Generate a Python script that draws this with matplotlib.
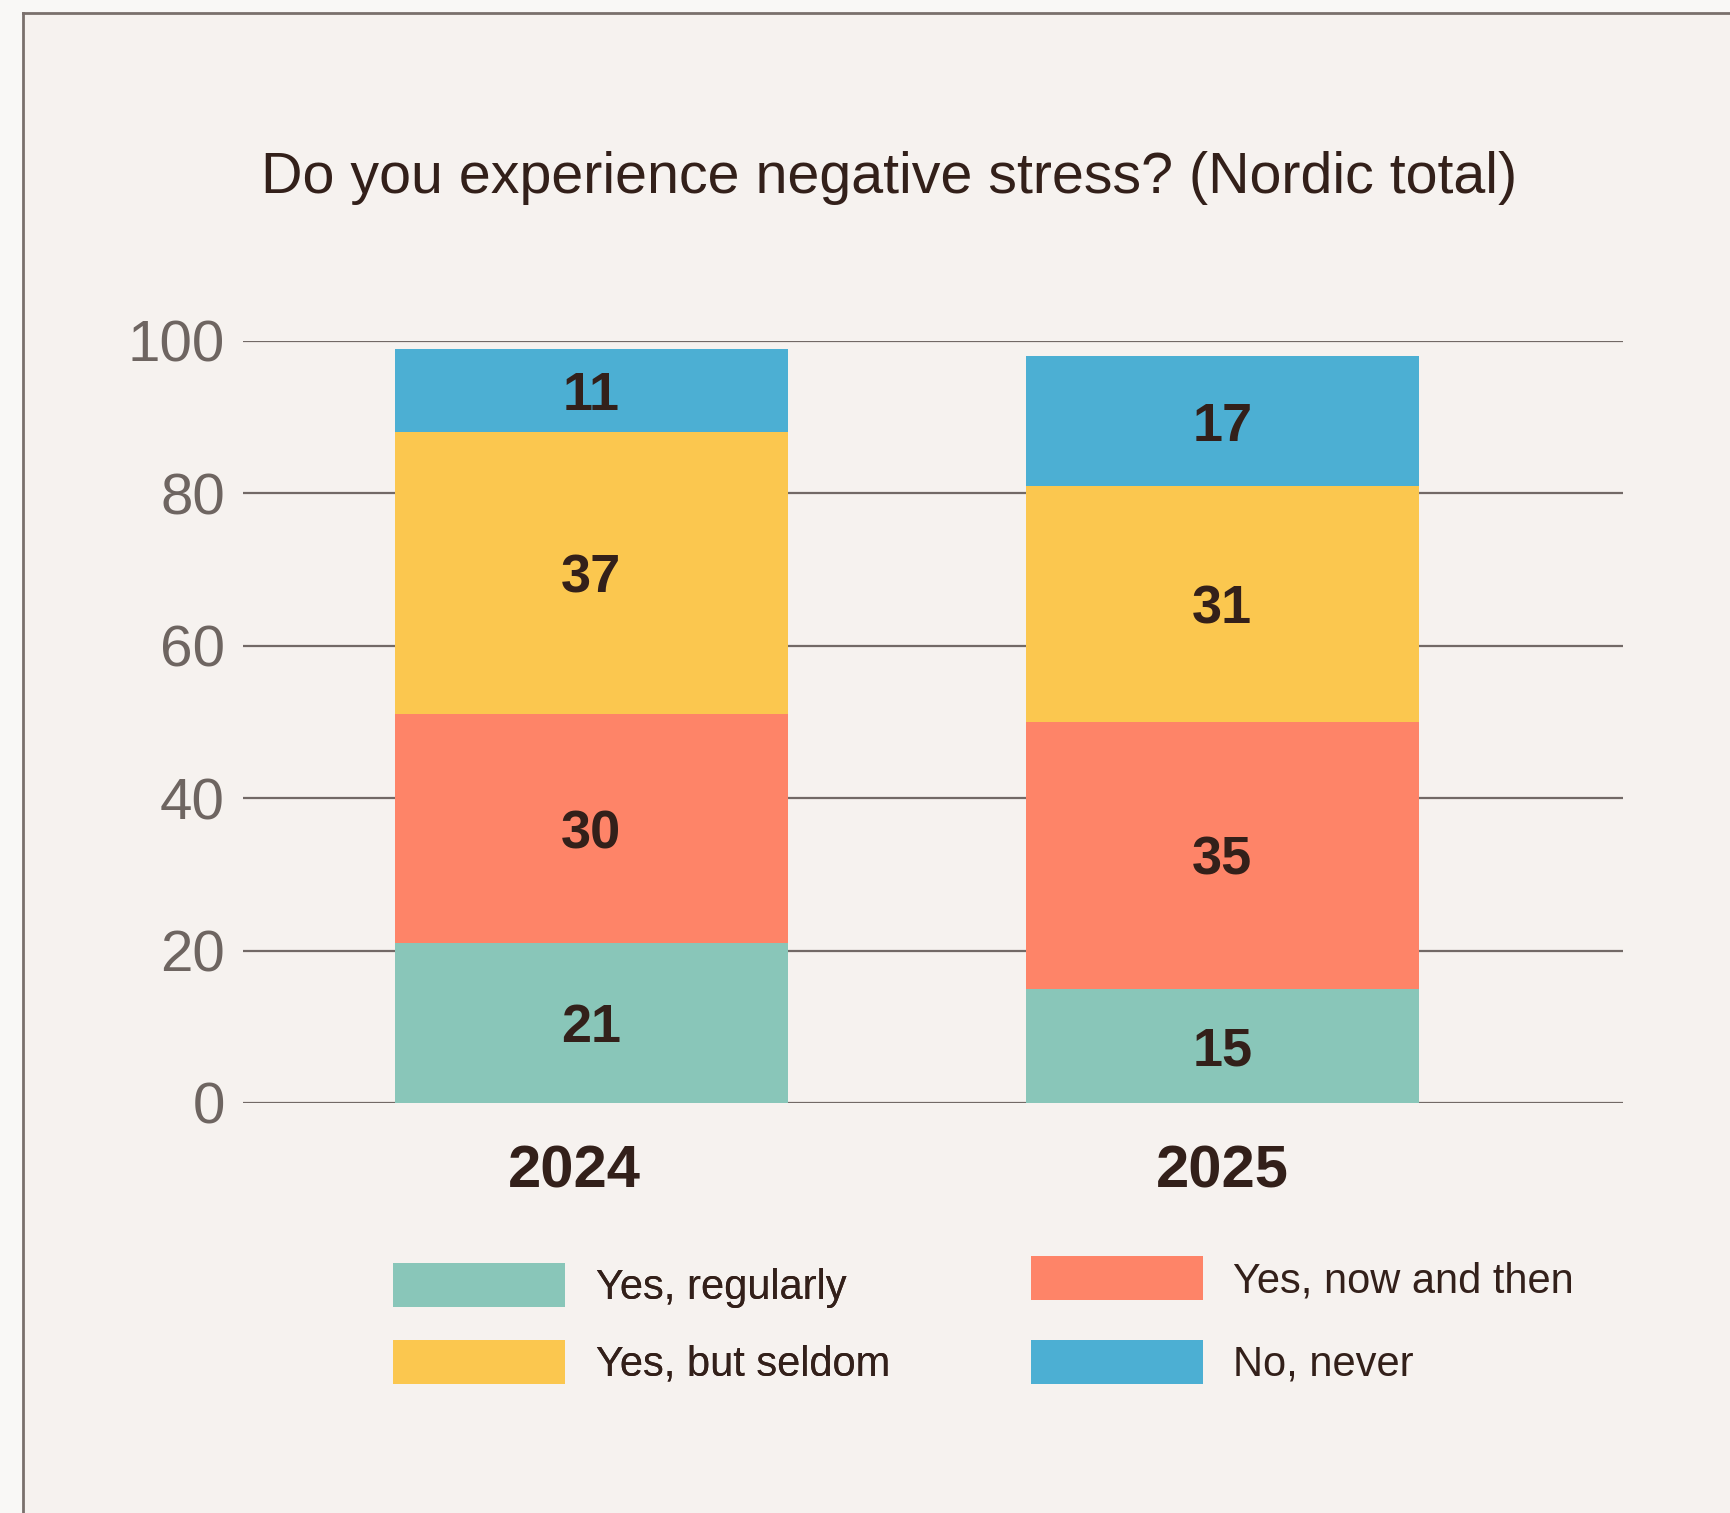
import numpy as np
import matplotlib
matplotlib.use("Agg")
import matplotlib.pyplot as plt
from matplotlib.patches import Patch, Rectangle
from matplotlib.transforms import ScaledTranslation

years = ["2024", "2025"]
categories = ["Yes, regularly", "Yes, now and then", "Yes, but seldom", "No, never"]
regularly = [21, 15]
now_and_then = [30, 35]
seldom = [37, 31]
never = [11, 17]
series = [regularly, now_and_then, seldom, never]
colors = ["#89c6b9", "#fe8468", "#fbc74f", "#4cafd3"]

plt.rcParams["font.family"] = ["Liberation Sans", "DejaVu Sans"]

dark = "#33201a"
grey = "#6e6561"

W, H = 1731, 1513
fig = plt.figure(figsize=(W / 100, H / 100), dpi=100)
fig.patch.set_facecolor("#f9f8f6")

# inner panel with a left/top border
fig.patches.append(Rectangle((23 / W, 0), 1, 1 - 13 / H, transform=fig.transFigure,
                             facecolor="#f6f2ef", edgecolor="none", zorder=-5))
fig.add_artist(plt.Line2D([23 / W, 23 / W], [0, 1 - 13 / H], color="#7a706c", lw=2, zorder=-4))
fig.add_artist(plt.Line2D([23 / W, 1], [1 - 13 / H, 1 - 13 / H], color="#7a706c", lw=2, zorder=-4))

ax = fig.add_axes([243 / W, 1 - 1103 / H, 1380 / W, 762 / H])
ax.set_facecolor("none")

x = np.arange(len(years))
bottom = np.zeros(len(years))
for vals, col, name in zip(series, colors, categories):
    vals = np.array(vals)
    ax.bar(x, vals, width=0.623, bottom=bottom, color=col, zorder=3, label=name)
    for xi, b, v in zip(x, bottom, vals):
        ax.text(xi, b + v / 2, str(v), ha="center", va="center_baseline", fontsize=39,
                fontweight="bold", color=dark, zorder=4)
    bottom += vals

ax.set_xlim(-0.552, 1.635)
ax.set_ylim(0, 100)
ax.set_yticks([0, 20, 40, 60, 80, 100])
ax.yaxis.grid(True, color="#726966", lw=1.6, zorder=0)
ax.set_axisbelow(True)
for s in ax.spines.values():
    s.set_visible(False)
ax.tick_params(axis="y", length=0, pad=13, labelsize=42, labelcolor=grey)
ax.tick_params(axis="x", length=0, pad=30)
ax.set_xticks(x)
ax.set_xticklabels(years, fontsize=43, fontweight="bold", color=dark)
# the 2024 label sits a bit left of its bar in the original
lbl = ax.get_xticklabels()[0]
lbl.set_transform(lbl.get_transform() + ScaledTranslation(-0.17, 0, fig.dpi_scale_trans))

fig.text(889 / W, 1 - 178 / H, "Do you experience negative stress? (Nordic total)",
         ha="center", va="center", fontsize=41.3, color=dark)

handles = [Patch(facecolor=c, edgecolor="none") for c in colors]
leg1 = fig.legend([handles[0], handles[2]], [categories[0], categories[2]],
                  loc="upper left", bbox_to_anchor=(393 / W, 1 - 1263 / H),
                  frameon=False, fontsize=30, handlelength=4.12, handleheight=1.25,
                  handletextpad=0.74, labelspacing=0.765, borderpad=0, borderaxespad=0,
                  labelcolor=dark)
leg2 = fig.legend([handles[1], handles[3]], [categories[1], categories[3]],
                  loc="upper left", bbox_to_anchor=(1031 / W, 1 - 1256 / H),
                  frameon=False, fontsize=30, handlelength=4.12, handleheight=1.25,
                  handletextpad=0.74, labelspacing=0.93, borderpad=0, borderaxespad=0,
                  labelcolor=dark)
fig.add_artist(leg1)

fig.savefig("out.png", dpi=100, facecolor=fig.get_facecolor())
